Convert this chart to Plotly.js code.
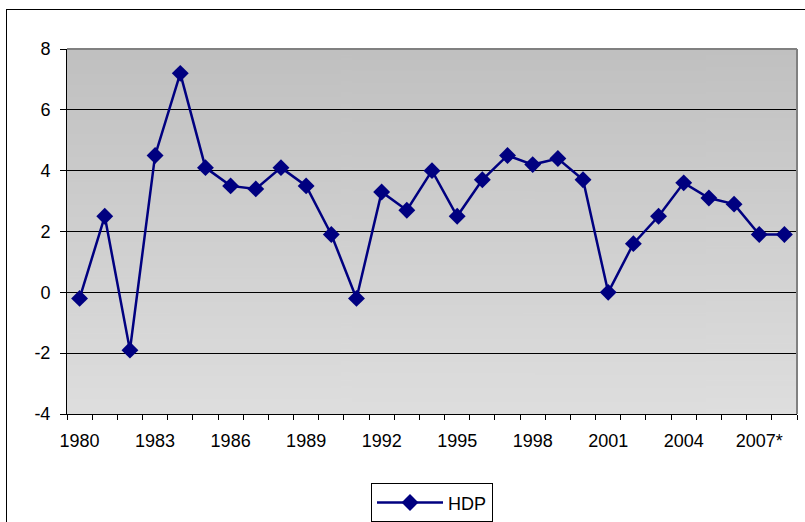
<!DOCTYPE html>
<html>
<head>
<meta charset="utf-8">
<script src="https://cdn.plot.ly/plotly-3.0.1.min.js"></script>
<style>
  html, body { margin: 0; padding: 0; background: #ffffff; overflow: hidden; }
  #frame { position: absolute; left: 6px; top: 9px; width: 900px; height: 700px; border: 1px solid #000; box-sizing: border-box; }
  #chart { position: absolute; left: 0; top: 0; width: 805px; height: 522px; }
</style>
</head>
<body>
<div id="frame"></div>
<div id="chart"></div>
<script>
// Data
const years = [1980, 1981, 1982, 1983, 1984, 1985, 1986, 1987, 1988, 1989,
               1990, 1991, 1992, 1993, 1994, 1995, 1996, 1997, 1998, 1999,
               2000, 2001, 2002, 2003, 2004, 2005, 2006, 2007, 2008];
const hdp = [-0.2, 2.5, -1.9, 4.5, 7.2, 4.1, 3.5, 3.4, 4.1, 3.5,
             1.9, -0.2, 3.3, 2.7, 4.0, 2.5, 3.7, 4.5, 4.2, 4.4,
             3.7, 0.0, 1.6, 2.5, 3.6, 3.1, 2.9, 1.9, 1.9];
const tickYears = [1980, 1983, 1986, 1989, 1992, 1995, 1998, 2001, 2004, 2007];
const tickLabels = ["1980", "1983", "1986", "1989", "1992", "1995", "1998", "2001", "2004", "2007*"];
const yTickVals = [-4, -2, 0, 2, 4, 6, 8];
const yTickLabels = ["-4", "-2", "0", "2", "4", "6", "8"];
const seriesName = "HDP";

// gradient background image for plot area
function gradientURL() {
  const c = document.createElement('canvas');
  c.width = 4; c.height = 256;
  const ctx = c.getContext('2d');
  const g = ctx.createLinearGradient(0, 0, 0, 256);
  g.addColorStop(0, '#c0c0c0');
  g.addColorStop(1, '#dedede');
  ctx.fillStyle = g;
  ctx.fillRect(0, 0, 4, 256);
  return c.toDataURL('image/png');
}

const font = { family: 'Liberation Sans, Arial, sans-serif', size: 18, color: '#000' };

const trace = {
  x: years, y: hdp, name: seriesName, type: 'scatter', mode: 'lines+markers',
  line: { color: '#000080', width: 2.5 },
  marker: { symbol: 'diamond', size: 13, color: '#000080' }
};

const layout = {
  width: 805, height: 522,
  margin: { l: 67, r: 8, t: 49, b: 108, autoexpand: false },
  paper_bgcolor: 'rgba(0,0,0,0)',
  plot_bgcolor: 'rgba(0,0,0,0)',
  font: font,
  showlegend: true,
  legend: {
    orientation: 'h', x: 0.5, xanchor: 'center', y: -0.19, yanchor: 'top',
    bordercolor: '#000', borderwidth: 1, bgcolor: '#fff', font: font,
    itemwidth: 66
  },
  xaxis: {
    range: [1979.5, 2008.5], tickmode: 'array', tickvals: tickYears, ticktext: tickLabels,
    ticks: '', showgrid: false, zeroline: false, showline: true, linecolor: '#000', linewidth: 1,
    tickfont: font, automargin: false, ticklabelstandoff: 10,
    minor: { tick0: 1979.5, dtick: 1, ticks: 'outside', ticklen: 5, tickcolor: '#000', showgrid: false }
  },
  yaxis: {
    range: [-4, 8], tickmode: 'array', tickvals: yTickVals, ticktext: yTickLabels,
    ticks: 'outside', ticklen: 6, tickcolor: '#000', automargin: false,
    showgrid: true, gridcolor: '#000', gridwidth: 1, zeroline: true, zerolinecolor: '#000', zerolinewidth: 1,
    showline: true, linecolor: '#000', linewidth: 1, tickfont: font, ticklabelstandoff: 6
  },
  images: [{
    source: gradientURL(), xref: 'paper', yref: 'paper', x: 0, y: 1, sizex: 1, sizey: 1,
    xanchor: 'left', yanchor: 'top', sizing: 'stretch', layer: 'below'
  }],
  shapes: [
    { type: 'line', xref: 'paper', yref: 'paper', x0: 0, x1: 1, y0: 1, y1: 1, line: { color: '#808080', width: 2 } },
    { type: 'line', xref: 'paper', yref: 'paper', x0: 1, x1: 1, y0: 0, y1: 1, line: { color: '#808080', width: 2 } }
  ]
};

Plotly.newPlot('chart', [trace], layout, { displayModeBar: false, staticPlot: true });
</script>
</body>
</html>
